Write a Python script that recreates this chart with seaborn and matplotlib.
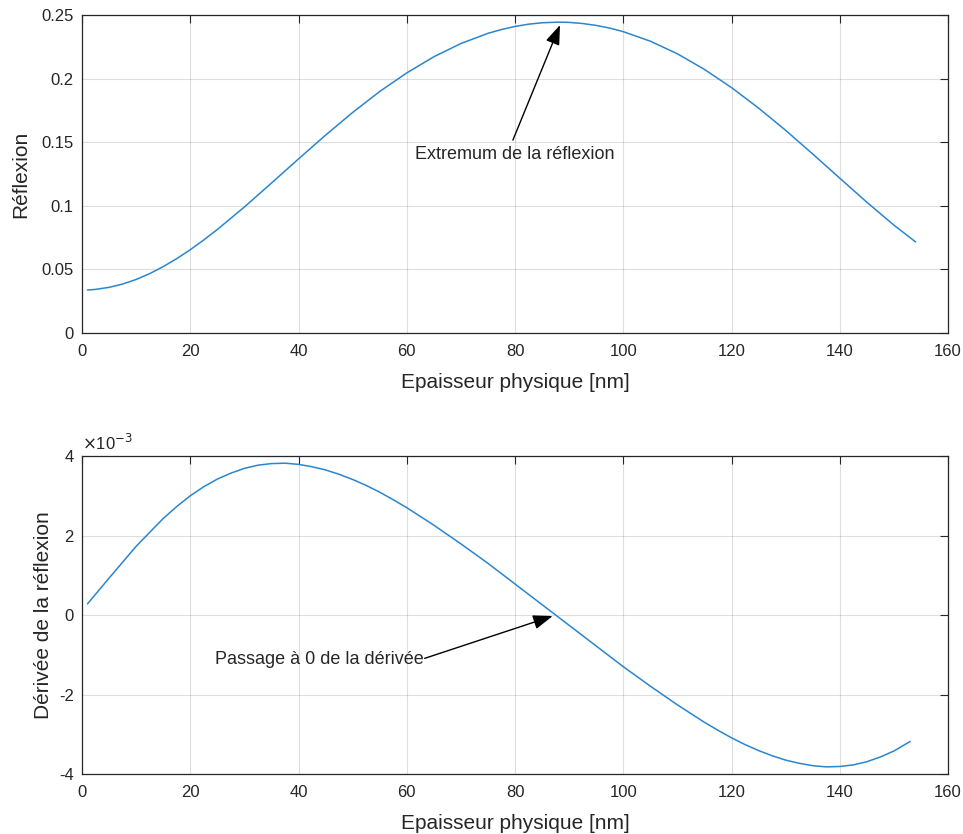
"""
Reflexion d'une couche mince en fonction de son epaisseur, et sa derivee.
"""

# === Imports ===

import matplotlib
matplotlib.use("Agg")
import pandas as pd
import seaborn as sns
from matplotlib import pyplot as plt
from matplotlib.ticker import FuncFormatter


# === Data ===

epaisseur = [1, 2.5, 5, 7.5, 10, 12.5, 15, 17.5, 20, 22.5, 25, 30, 35, 40, 45, 50, 55,
             60, 65, 70, 75, 77.5, 80, 82.5, 85, 88, 90, 92.5, 95, 97.5, 100, 105, 110,
             115, 120, 125, 130, 135, 140, 145, 150, 154]
reflexion = [0.0338, 0.0343, 0.0359, 0.0385, 0.0421, 0.0467, 0.0522, 0.0585, 0.0655,
             0.0732, 0.0814, 0.0991, 0.1179, 0.1369, 0.1556, 0.1734, 0.1899, 0.2045,
             0.2172, 0.2276, 0.2356, 0.2386, 0.2410, 0.2428, 0.2439, 0.2444, 0.2442,
             0.2433, 0.2418, 0.2397, 0.2369, 0.2294, 0.2195, 0.2072, 0.1929, 0.1768,
             0.1593, 0.1407, 0.1217, 0.1028, 0.0848, 0.0716]

epaisseur_d = [1, 5, 10, 15, 17.5, 20, 22.5, 25, 27.5, 30, 32.5, 35, 37.5, 40, 42.5, 45,
               47.5, 50, 52.5, 55, 57.5, 60, 65, 70, 75, 80, 85, 90, 95, 100, 105, 110,
               115, 117.5, 120, 122.5, 125, 127.5, 130, 132.5, 135, 137.5, 140, 142.5,
               145, 147.5, 150, 153]
derivee = [0.00028, 0.00093, 0.00173, 0.00243, 0.00273, 0.00300, 0.00323, 0.00342,
           0.00357, 0.00369, 0.00377, 0.00381, 0.00382, 0.00379, 0.00373, 0.00365,
           0.00354, 0.00341, 0.00326, 0.00309, 0.00290, 0.00270, 0.00226, 0.00179,
           0.00130, 0.00078, 0.00026, -0.00026, -0.00078, -0.00130, -0.00179, -0.00226,
           -0.00270, -0.00290, -0.00309, -0.00326, -0.00341, -0.00354, -0.00365,
           -0.00373, -0.00379, -0.00382, -0.00381, -0.00377, -0.00369, -0.00357,
           -0.00342, -0.00318]

xticks = [0, 20, 40, 60, 80, 100, 120, 140, 160]
yticks_top = [0, 0.05, 0.1, 0.15, 0.2, 0.25]
yticks_bot = [-0.004, -0.002, 0, 0.002, 0.004]


# === Style ===

sns.set_style("white")
plt.rcParams["font.family"] = ["Liberation Sans", "DejaVu Sans"]
plt.rcParams["axes.unicode_minus"] = False
line_color = "#2A86CE"
axis_color = "#262626"
arrow_style = "-|>,head_length=0.6,head_width=0.22"


def style_axes(ax):
    ax.set_xlim(0, 160)
    ax.set_xticks(xticks)
    ax.tick_params(direction="in", length=6, width=0.8, top=True, right=True,
                   labelsize=12, colors=axis_color)
    ax.tick_params(axis="x", pad=8)
    ax.tick_params(axis="y", pad=6)
    ax.grid(True, color=axis_color, alpha=0.15, lw=0.8)
    ax.set_axisbelow(True)
    for spine in ax.spines.values():
        spine.set_color(axis_color)
        spine.set_linewidth(0.9)
    ax.set_xlabel("Epaisseur physique [nm]", fontsize=15, color=axis_color, labelpad=10)


# === Plot ===

fig = plt.figure(figsize=(9.63, 8.34), dpi=100)
ax1 = fig.add_axes([0.0852, 0.6007, 0.8993, 0.3813])
ax2 = fig.add_axes([0.0852, 0.0719, 0.8993, 0.3813])

# Reflexion
top = pd.DataFrame({"x": epaisseur, "y": reflexion})
sns.lineplot(data=top, x="x", y="y", ax=ax1, color=line_color, lw=1.1)
style_axes(ax1)
ax1.set_ylim(0, 0.25)
ax1.set_yticks(yticks_top)
ax1.yaxis.set_major_formatter(FuncFormatter(lambda v, p: "%g" % round(v, 4)))
ax1.set_ylabel("Réflexion", fontsize=15, color=axis_color, labelpad=8)
ax1.annotate("", xy=(88.3, 0.2421), xytext=(79.6, 0.1517),
             arrowprops=dict(arrowstyle=arrow_style, color="black", lw=1,
                             mutation_scale=20, shrinkA=0, shrinkB=0))
ax1.text(61.5, 0.140, "Extremum de la réflexion", fontsize=13, ha="left", va="center")

# Derivee
bot = pd.DataFrame({"x": epaisseur_d, "y": derivee})
sns.lineplot(data=bot, x="x", y="y", ax=ax2, color=line_color, lw=1.1)
style_axes(ax2)
ax2.set_ylim(-0.004, 0.004)
ax2.set_yticks(yticks_bot)
ax2.yaxis.set_major_formatter(FuncFormatter(lambda v, p: "%g" % round(v * 1e3, 4)))
ax2.text(0.0, 1.01, r"$\times$10$^{-3}$", transform=ax2.transAxes, fontsize=12,
         color=axis_color, ha="left", va="bottom")
ax2.set_ylabel("Dérivée de la réflexion", fontsize=15, color=axis_color, labelpad=4)
ax2.annotate("", xy=(86.95, -0.000025), xytext=(63.3, -0.00109),
             arrowprops=dict(arrowstyle=arrow_style, color="black", lw=1,
                             mutation_scale=20, shrinkA=0, shrinkB=0))
ax2.text(24.5, -0.00112, "Passage à 0 de la dérivée", fontsize=13, ha="left", va="center")

plt.savefig("out.png", dpi=100, facecolor="white")
